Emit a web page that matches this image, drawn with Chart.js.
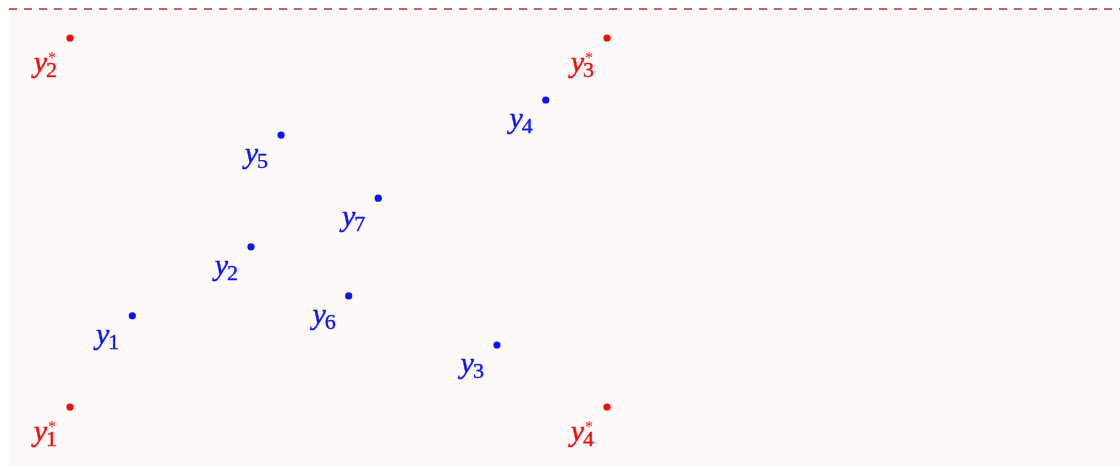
<!DOCTYPE html>
<html>
<head>
<meta charset="utf-8">
<script src="https://cdn.jsdelivr.net/npm/chart.js@4"></script>
<style>
  html, body { margin: 0; padding: 0; background: #ffffff; }
  #wrap { width: 1120px; height: 468px; }
</style>
</head>
<body>
<div id="wrap"><canvas id="pointsChart" width="1120" height="468"></canvas></div>
<script>
// sample points y_i (blue)
const blueX = [0.116, 0.337, 0.795, 0.886, 0.393, 0.519, 0.574];
const blueY = [0.247, 0.434, 0.168, 0.832, 0.737, 0.301, 0.566];
const blueSub = ['1', '2', '3', '4', '5', '6', '7'];

// corner points y_i* (red)
const redX = [0, 0, 1, 1];
const redY = [0, 1, 1, 0];
const redSub = ['1', '2', '3', '4'];

const BLUE = '#0a14f5';
const RED = '#f50a0a';
const BG = '#fdf9f8';
const FONT = '"Liberation Serif", "DejaVu Serif", serif';

// Function to zip x/y arrays into chart points
function toPoints(xs, ys) {
    return xs.map((x, i) => ({ x: x, y: ys[i] }));
}

// fill plot area and draw the dashed line along the top
const backdrop = {
    id: 'backdrop',
    beforeDraw(chart) {
        const { ctx, chartArea } = chart;
        ctx.save();
        ctx.fillStyle = BG;
        ctx.fillRect(chartArea.left, chartArea.top, chartArea.right - chartArea.left, chartArea.bottom - chartArea.top);
        ctx.strokeStyle = '#b8302f';
        ctx.lineWidth = 1.6;
        ctx.setLineDash([8, 7]);
        ctx.beginPath();
        ctx.moveTo(chartArea.left, chartArea.top);
        ctx.lineTo(chartArea.right, chartArea.top);
        ctx.stroke();
        ctx.restore();
    }
};

// y with subscript (and star for the red ones), placed below-left of the point
const pointLabels = {
    id: 'pointLabels',
    afterDatasetsDraw(chart) {
        const ctx = chart.ctx;
        chart.data.datasets.forEach((ds, di) => {
            const meta = chart.getDatasetMeta(di);
            meta.data.forEach((el, i) => {
                const sub = ds.subs[i];
                ctx.save();
                ctx.fillStyle = ds.backgroundColor;
                ctx.strokeStyle = ds.backgroundColor;
                ctx.lineWidth = 0.4;
                ctx.textBaseline = 'alphabetic';
                ctx.font = 'italic 30px ' + FONT;
                const yW = ctx.measureText('y').width;
                ctx.font = '22px ' + FONT;
                const sW = ctx.measureText(sub).width;
                const x0 = el.x - 12 - (yW + sW);
                const base = el.y + (ds.star ? 34 : 28);
                ctx.font = 'italic 30px ' + FONT;
                ctx.fillText('y', x0, base);
                ctx.strokeText('y', x0, base);
                ctx.font = '22px ' + FONT;
                ctx.fillText(sub, x0 + yW - 1, base + 5);
                ctx.strokeText(sub, x0 + yW - 1, base + 5);
                if (ds.star) {
                    ctx.font = '16px ' + FONT;
                    ctx.fillText('*', x0 + yW + 1, base - 9);
                }
                ctx.restore();
            });
        });
    }
};

const chart = new Chart(document.getElementById('pointsChart').getContext('2d'), {
    type: 'scatter',
    data: {
        datasets: [
            {
                label: 'y',
                data: toPoints(blueX, blueY),
                subs: blueSub,
                star: false,
                backgroundColor: BLUE,
                borderColor: BLUE,
                pointRadius: 3.6,
                borderWidth: 0
            },
            {
                label: 'y*',
                data: toPoints(redX, redY),
                subs: redSub,
                star: true,
                backgroundColor: RED,
                borderColor: RED,
                pointRadius: 3.6,
                borderWidth: 0
            }
        ]
    },
    options: {
        responsive: false,
        devicePixelRatio: 1,
        animation: false,
        layout: { autoPadding: false, padding: { left: 9, top: 9, right: 0, bottom: 2 } },
        scales: {
            x: { type: 'linear', display: false, min: -0.1136, max: 1.9553 },
            y: { type: 'linear', display: false, min: -0.1599, max: 1.0786 }
        },
        plugins: {
            legend: { display: false },
            tooltip: { enabled: false }
        }
    },
    plugins: [backdrop, pointLabels]
});
</script>
</body>
</html>
